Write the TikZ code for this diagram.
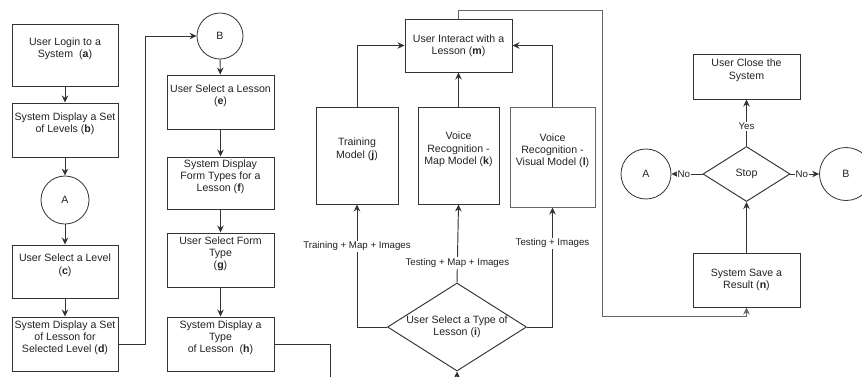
\documentclass[tikz,border=0pt]{standalone}
\usepackage{fontspec}
\setmainfont{Liberation Sans}
\usetikzlibrary{arrows.meta,shapes.geometric}
\definecolor{lc}{HTML}{333333}
\definecolor{lg}{HTML}{666666}
\definecolor{tc}{HTML}{222222}
\newcommand\boxfont{\fontsize{10.6}{12.4}\selectfont}
\newcommand\lblfont{\fontsize{9.7}{11}\selectfont}
\tikzset{
  box/.style={draw=lc, line width=0.95pt, rectangle, align=center, font=\boxfont,
              text=tc, inner sep=0pt},
  lifted/.style={text depth=14.5pt},
  conn/.style={draw=lc, circle, line width=0.8pt, font=\boxfont, text=tc, inner sep=0pt},
  dia/.style={draw=lc, diamond, line width=0.95pt, inner sep=0pt},
  txt/.style={align=center, font=\boxfont, text=tc, inner sep=0pt},
  arr/.style={draw=lc, line width=0.95pt, -{Stealth[length=7pt,width=6.5pt]}},
  lbl/.style={fill=white, font=\lblfont, text=tc, inner sep=1pt},
}
\begin{document}
\begin{tikzpicture}[x=1pt,y=-1pt]
\useasboundingbox (0,0) rectangle (862,376);
\clip (0,0) rectangle (862,376);

% first column: login and level selection
\node[box, lifted, minimum width=106, minimum height=62] (a) at (65,55)
  {User Login to a\\System~ (\textbf{a})};
\node[box, lifted, minimum width=106, minimum height=54] (b) at (65,130)
  {System Display a Set\\of Levels (\textbf{b})};
\node[conn, minimum size=48] (A1) at (65,200) {A};
\node[box, lifted, minimum width=106, minimum height=53] (c) at (65,271.5)
  {User Select a Level\\(\textbf{c})};
\node[box, lifted, minimum width=106, minimum height=54] (d) at (65,344)
  {System Display a Set\\of Lesson for\\Selected Level (\textbf{d})};

% second column: lesson and form type selection
\node[conn, minimum size=46] (B1) at (220,36) {B};
\node[box, lifted, minimum width=107, minimum height=54] (e) at (220.5,102)
  {User Select a Lesson\\(\textbf{e})};
\node[box, lifted, minimum width=107, minimum height=52] (f) at (220.5,183)
  {System Display\\Form Types for a\\Lesson (\textbf{f})};
\node[box, lifted, minimum width=107, minimum height=54] (g) at (220.5,260)
  {User Select Form\\Type\\(\textbf{g})};
\node[box, lifted, minimum width=107, minimum height=54] (h) at (220.5,344)
  {System Display a\\Type\\of Lesson~ (\textbf{h})};

% third column: lesson models
\node[box, minimum width=107, minimum height=53] (m) at (458.5,45.5)
  {User Interact with a\\Lesson (\textbf{m})};
\node[box, lifted, minimum width=82, minimum height=97] (j) at (357,155.5)
  {Training\\Model (\textbf{j})};
\node[box, lifted, minimum width=81, minimum height=97] (k) at (458.5,155.5)
  {Voice\\Recognition -\\Map Model (\textbf{k})};
\node[box, lifted, draw=lg, minimum width=85, minimum height=100] (l) at (552.5,157)
  {Voice\\Recognition -\\Visual Model (\textbf{l})};
\node[dia, minimum width=139, minimum height=88] (i) at (457,327) {};
\node[txt] (it) at (i.center) {User Select a Type of\\Lesson (\textbf{i})};

% fourth column: saving and stopping
\node[box, lifted, minimum width=107, minimum height=45] (close) at (746.5,76.5)
  {User Close the\\System};
\node[dia, minimum width=87, minimum height=55] (stop) at (746.5,174) {};
\node[txt] (stopt) at (stop.center) {Stop};
\node[conn, minimum size=50] (A2) at (646,174) {A};
\node[conn, minimum size=53] (B2) at (846,174) {B};
\node[box, minimum width=107, minimum height=54] (n) at (746.5,280)
  {System Save a\\Result (\textbf{n})};

% routing points
\coordinate (dB) at (145,344);
\coordinate (hR) at (330,344);
\coordinate (hD) at (330,400);
\coordinate (iD) at (457,400);
\coordinate (mUp) at (602,10);
\coordinate (mDn) at (602,316);

% connectors
\draw[arr] (a) -- (b);
\draw[arr] (b) -- (A1);
\draw[arr] (A1) -- (c);
\draw[arr] (c) -- (d);
\draw[arr] (d.east) -- (dB) |- (B1.west);

\draw[arr] (B1) -- (e);
\draw[arr] (e) -- (f);
\draw[arr] (f) -- (g);
\draw[arr] (g) -- (h);
\draw[arr] (h.east) -- (hR) -- (hD) -- (iD) -- (i.south);

\draw[arr] (i.west) -| node[lbl, pos=0.83] (lj) {Training + Map + Images} (j.south);
\draw[arr] (i.north) -- node[lbl, pos=0.25] (lk) {Testing + Map + Images} (k.south);
\draw[arr] (i.east) -| node[lbl, pos=0.85] (ll) {Testing + Images} (l.south);

\draw[arr] (j.north) |- (m.west);
\draw[arr] (k.north) -- (m.south);
\draw[arr] (l.north) |- (m.east);

\draw[arr, draw=lg] (m.north) |- (mUp) -- (mDn) -| (n.south);
\draw[arr] (n) -- (stop);
\draw[arr] (stop.north) -- node[lbl, pos=0.42] (ly) {Yes} (close.south);
\draw[arr] (stop.west) -- node[lbl, pos=0.6] (lna) {No} (A2.east);
\draw[arr] (stop.east) -- node[lbl, pos=0.4] (lnb) {No} (B2.west);
\end{tikzpicture}
\end{document}
